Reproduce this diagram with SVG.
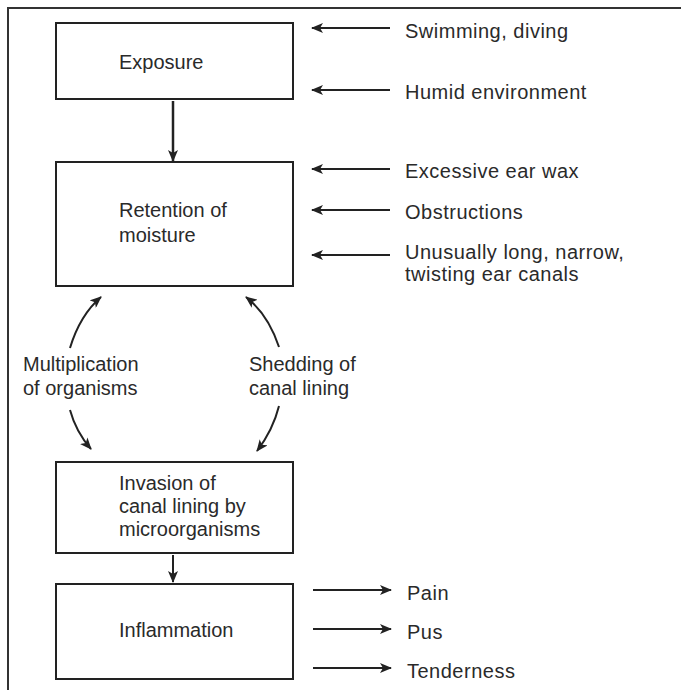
<svg xmlns="http://www.w3.org/2000/svg" width="681" height="690" viewBox="0 0 681 690">
<defs>
<marker id="ah" viewBox="0 0 12 10" refX="11" refY="5" markerWidth="12" markerHeight="10" markerUnits="userSpaceOnUse" orient="auto">
<path d="M0,0 L12,5 L0,10 L3,5 Z" fill="#222"/>
</marker>
</defs>
<style>
text{font-family:"Liberation Sans",Arial,sans-serif;font-size:20px;fill:#2a2a2a}
.r{letter-spacing:0.5px}
.box{fill:#fff;stroke:#222;stroke-width:2}
.ln{fill:none;stroke:#222;stroke-width:2;marker-end:url(#ah)}
.frame{fill:none;stroke:#333;stroke-width:2}
</style>
<rect width="681" height="690" fill="#fff"/>
<path class="frame" d="M8,690 L8,8 L681,8"/>
<g id="exposure"><rect class="box" x="56" y="23" width="237" height="76"/><text x="119" y="69">Exposure</text></g>
<g id="retention"><rect class="box" x="56" y="162" width="237" height="124"/><text x="119" y="217">Retention of</text><text x="119" y="242">moisture</text></g>
<g id="invasion"><rect class="box" x="56" y="462" width="237" height="91"/><text x="119" y="490">Invasion of</text><text x="119" y="513">canal lining by</text><text x="119" y="536">microorganisms</text></g>
<g id="inflammation"><rect class="box" x="56" y="584" width="237" height="95"/><text x="119" y="637">Inflammation</text></g>
<g id="causes">
<text class="r" x="405" y="38">Swimming, diving</text>
<text class="r" x="405" y="99">Humid environment</text>
<text class="r" x="405" y="178">Excessive ear wax</text>
<text class="r" x="405" y="219">Obstructions</text>
<text class="r" x="405" y="259">Unusually long, narrow,</text>
<text class="r" x="405" y="281">twisting ear canals</text>
</g>
<g id="symptoms">
<text class="r" x="407" y="600">Pain</text>
<text class="r" x="407" y="639">Pus</text>
<text class="r" x="407" y="678">Tenderness</text>
</g>
<g id="cycle-labels">
<text x="23" y="371">Multiplication</text>
<text x="23" y="395">of organisms</text>
<text x="249" y="371">Shedding of</text>
<text x="249" y="395">canal lining</text>
</g>
<g id="connectors">
<path class="ln" style="stroke-width:2.5" d="M173,101 L173,161"/>
<path class="ln" d="M173,555 L173,582"/>
<path class="ln" d="M390,28 L312,28"/>
<path class="ln" d="M390,90 L312,90"/>
<path class="ln" d="M390,169 L312,169"/>
<path class="ln" d="M390,210 L312,210"/>
<path class="ln" d="M390,255 L312,255"/>
<path class="ln" d="M313,590 L391,590"/>
<path class="ln" d="M313,629 L391,629"/>
<path class="ln" d="M313,668 L391,668"/>
<path class="ln" d="M70,348 Q80,315 101,297"/>
<path class="ln" d="M279,347 Q268,314 246,297"/>
<path class="ln" d="M70,410 Q76,432 91,449"/>
<path class="ln" d="M279,406 Q273,430 257,451"/>
</g>
</svg>
